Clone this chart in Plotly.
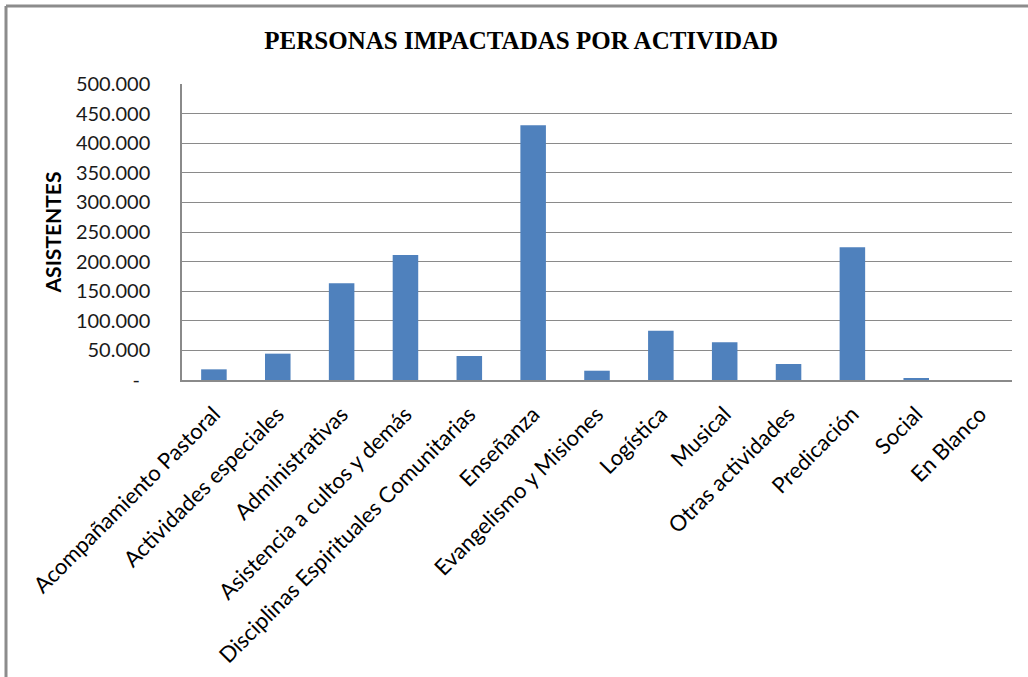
import plotly.graph_objects as go

categories = [
    "Acompañamiento Pastoral", "Actividades especiales", "Administrativas",
    "Asistencia a cultos y demás", "Disciplinas Espirituales Comunitarias",
    "Enseñanza", "Evangelismo y Misiones", "Logística", "Musical",
    "Otras actividades", "Predicación", "Social", "En Blanco",
]
values = [18000, 44500, 163500, 211000, 40500, 430500, 15700, 83300,
          63700, 27000, 224200, 2200, 0]

y_tickvals = [0, 50000, 100000, 150000, 200000, 250000, 300000, 350000,
              400000, 450000, 500000]
y_ticktext = ["-\u00a0\u00a0", "50.000", "100.000", "150.000", "200.000",
              "250.000", "300.000", "350.000", "400.000", "450.000", "500.000"]

W, H = 1028, 677
ML, MR, MT, MB = 182, 16, 84, 297
pw, ph = W - ML - MR, H - MT - MB

fig = go.Figure(go.Bar(
    x=categories, y=values,
    marker=dict(color="#4F81BD", line=dict(color="#A9C0DE", width=0)),
))

grid = "#8a8a8a"
fig.update_layout(
    width=W, height=H,
    margin=dict(l=ML, r=MR, t=MT, b=MB, autoexpand=False),
    paper_bgcolor="white", plot_bgcolor="white",
    bargap=0.6, showlegend=False,
    title=dict(text="<b>PERSONAS IMPACTADAS POR ACTIVIDAD</b>",
               font=dict(family="Liberation Serif", size=25, color="black"),
               x=0.507, xanchor="center", y=1 - 40 / H, yanchor="middle"),
    font=dict(family="Lato", color="#000000"),
    xaxis=dict(tickangle=-45, tickfont=dict(size=22, family="Lato", color="black"),
               showline=True, linecolor=grid, linewidth=1.5, ticks="",
               ticklabelstandoff=11,
               showgrid=False, automargin=False),
    yaxis=dict(range=[0, 500000], tickvals=y_tickvals, ticktext=y_ticktext,
               tickfont=dict(size=20, family="Lato", color="#1a1a1a"),
               showline=True, linecolor=grid, linewidth=1.5,
               showgrid=True, gridcolor=grid, gridwidth=1.3,
               ticks="", ticklabelstandoff=26, zeroline=False, automargin=False,
               title=dict(text="<b>ASISTENTES</b>", standoff=9,
                          font=dict(size=21, family="Lato", color="black"))),
)

# outer chart border (top and left edges visible)
x_left = (6 - ML) / pw
y_top = 1 + (MT - 6) / ph
y_bot = -(MB + 5) / ph
x_right = 1 + (MR + 5) / pw
fig.add_shape(type="line", xref="paper", yref="paper", x0=x_left, x1=x_right,
              y0=y_top, y1=y_top, line=dict(color="#8c8c8c", width=3))
fig.add_shape(type="line", xref="paper", yref="paper", x0=x_left, x1=x_left,
              y0=y_top, y1=y_bot, line=dict(color="#8c8c8c", width=3))

fig.write_html("out.html", config={"displayModeBar": False},
               post_script="document.body.style.margin='0';")
